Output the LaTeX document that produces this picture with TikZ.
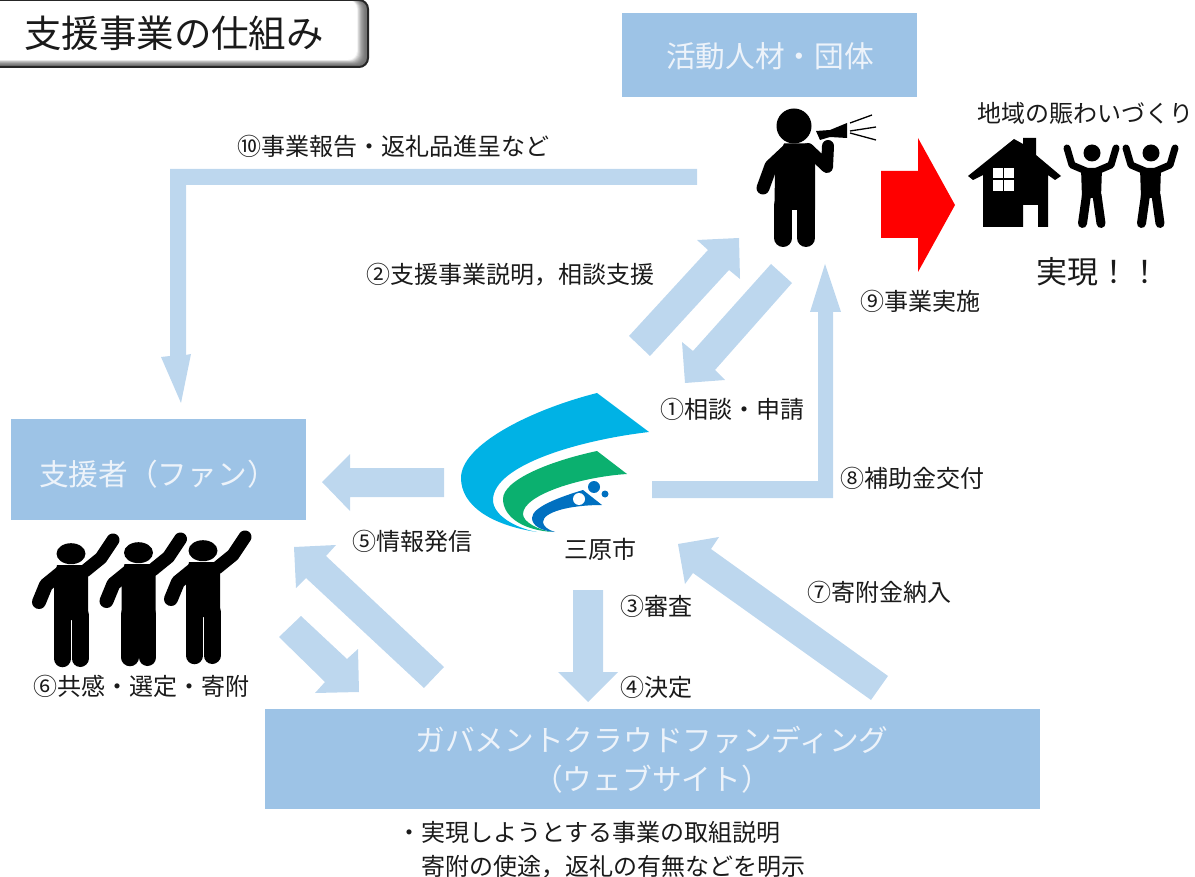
\documentclass[tikz,border=0pt]{standalone}
\usepackage{fontspec}
\setmainfont{Noto Sans CJK JP}
\definecolor{boxblue}{HTML}{9DC3E6}
\definecolor{arrowblue}{HTML}{BDD7EE}
\definecolor{logocyan}{HTML}{00B2E5}
\definecolor{logogreen}{HTML}{0BB06F}
\definecolor{logoblue}{HTML}{0070C0}
\definecolor{boxtext}{HTML}{EDF3FA}
\definecolor{inktext}{HTML}{1A1A1A}
\tikzset{
  bluebox/.style={fill=boxblue,draw=none},
  blockarrow/.style={fill=arrowblue,draw=none},
  boxlabel/.style={font=\fontsize{29.7}{38.5}\selectfont,text=boxtext,inner sep=0pt,align=center},
  lab/.style={font=\fontsize{24}{30}\selectfont,text=inktext,inner sep=0pt,text height=21pt,text depth=2pt},
  limb/.style={draw=black,line cap=round,line join=round},
}
\newcommand{\wavefigure}{%
  \fill[black] (71,553.7) ellipse [x radius=14.5,y radius=10.5];
  \fill[black] (57,565) -- (86,565) -- (88,572) -- (88,620) -- (54,620) -- (54,580) -- cycle;
  \draw[limb,line width=17.5] (62.5,615) -- (62.5,658.5);
  \draw[limb,line width=17] (80,615) -- (80,658.5);
  \draw[limb,line width=14] (62,572) -- (46,585) -- (39,602);
  \draw[limb,line width=13] (85,571) -- (101,558) -- (113,540);
}
\newcommand{\cheerfigure}{%
  \fill[black] (1092,153) circle [radius=8.5];
  \fill[black] (1081,168) -- (1102,168) -- (1101,198) -- (1082,198) -- cycle;
  \draw[limb,line width=7] (1086,171) -- (1072,165) -- (1067,148);
  \draw[limb,line width=7] (1097,171) -- (1111,165) -- (1116,148);
  \draw[limb,line width=9] (1086.5,195) -- (1082.5,223.5);
  \draw[limb,line width=9] (1097,195) -- (1101,223.5);
}
\begin{document}
\begin{tikzpicture}[x=1pt,y=-1pt]
\useasboundingbox (0,0) rectangle (1195,877);
% title
\foreach \i in {0,...,16}{
  \pgfmathsetmacro{\shadepct}{min(100,45+\i*\i*0.35)}
  \fill[white!\shadepct!black,rounded corners=9] (-10,0) rectangle ({368-\i*0.85},{67-\i*0.55});
}
\draw[draw=black!85,line width=2,rounded corners=9] (-10,0) rectangle (368,67);
\node[inner sep=0pt,text=inktext,font=\fontsize{37.5}{42}\selectfont] (title) at (174,33) {支援事業の仕組み};
% boxes
\fill[bluebox] (622,13) rectangle (917,97);
\node[boxlabel] (actor) at (770,56) {活動人材・団体};
\fill[bluebox] (11,419) rectangle (306,520);
\node[boxlabel] (supporter) at (158,474) {支援者（ファン）};
\fill[bluebox] (265,709) rectangle (1040,809);
\node[boxlabel] (gcf) at (652,760) {ガバメントクラウドファンディング\\（ウェブサイト）};
% block arrows
\fill[blockarrow] (697,169) -- (170,169) -- (170,356) -- (161,357) -- (181,403) -- (191,354) -- (186,355) -- (186,185) -- (697,185) -- cycle;
\fill[blockarrow] (629,336) -- (650,356) -- (729,270) -- (740,279) -- (739,238) -- (697,240) -- (708,250) -- cycle;
\fill[blockarrow] (771,264) -- (792,283) -- (715,370) -- (725,380) -- (685,383) -- (682,342) -- (693,351) -- cycle;
\fill[blockarrow] (652,481) -- (818,481) -- (818,312) -- (810,312) -- (825,264) -- (841,312) -- (833,312) -- (833,498) -- (652,498) -- cycle;
\fill[blockarrow] (444,468) -- (350,468) -- (350,454) -- (322,482) -- (350,511) -- (350,497) -- (444,497) -- cycle;
\fill[blockarrow] (573,590) -- (603,590) -- (603,672) -- (618,672) -- (588,702) -- (558,672) -- (573,672) -- cycle;
\fill[blockarrow] (888,676) -- (871,700) -- (693,573) -- (685,584) -- (678,544) -- (719,537) -- (711,549) -- cycle;
\fill[blockarrow] (444,667) -- (424,688) -- (306,578) -- (296,588) -- (294,547) -- (336,545) -- (326,556) -- cycle;
\fill[blockarrow] (279,637) -- (301,616) -- (347,659) -- (358,649) -- (359,692) -- (315,693) -- (325,682) -- cycle;
% red arrow
\fill[red] (881,171) -- (918,171) -- (918,138) -- (955,205) -- (918,272) -- (918,238) -- (881,238) -- cycle;
% megaphone person
\fill[black] (794,126) circle [radius=17.5];
\fill[black] (784,143.5) -- (806,143.5) -- (815,155) -- (815,210) -- (774.5,210) -- (775,165) -- cycle;
\draw[limb,line width=18] (783.3,205) -- (783.3,238);
\draw[limb,line width=18] (806,205) -- (806,238);
\draw[limb,line width=13] (787,151) -- (771,166) -- (763,188);
\draw[limb,line width=12] (808,149) -- (827,167) -- (828,146);
\fill[black] (816,131) -- (820,140) -- (830,137) -- (847,138) -- (847,123) -- (830,130) -- cycle;
\draw[black,line width=1.3] (850,123) -- (872,115) (850,131) -- (876,127) (850,133) -- (876,140);
% house
\fill[black] (968,176) -- (1014,139) -- (1023,144) -- (1023,138) -- (1036,138) -- (1036,155) -- (1061,176) -- (1055,180) -- (1048,175) -- (1048,227) -- (1038,227) -- (1038,205) -- (1023,205) -- (1023,227) -- (983,227) -- (983,175) -- (973,180) -- cycle;
\fill[white] (993,168) rectangle (1014,191);
\draw[black,line width=1.2] (1003.5,168) -- (1003.5,191) (993,179) -- (1014,179);
% cheering figures
\cheerfigure
\begin{scope}[shift={(59,0)}]\cheerfigure\end{scope}
% waving figures
\wavefigure
\begin{scope}[shift={(67.5,-1)}]\wavefigure\end{scope}
\begin{scope}[shift={(132,-3)}]\wavefigure\end{scope}
% logo
\fill[logocyan] (597,393) -- (649,432) .. controls (580,440) and (493,465) .. (493,500) .. controls (493,515) and (515,528) .. (537,532) .. controls (490,525) and (461,505) .. (461,478) .. controls (461,445) and (530,410) .. (597,393) -- cycle;
\fill[logogreen] (597,451) -- (627,474) .. controls (580,477) and (523,495) .. (523,514) .. controls (523,522) and (538,530) .. (553,532) .. controls (520,530) and (503,515) .. (503,499) .. controls (503,480) and (550,461) .. (597,451) -- cycle;
\fill[logoblue] (583,490) -- (602,505) .. controls (570,505) and (543,512) .. (543,522) .. controls (543,526) and (548,530) .. (555,532) .. controls (542,531) and (532,526) .. (532,518) .. controls (532,507) and (560,497) .. (583,490) -- cycle;
\fill[white] (579,499) circle [radius=6];
\fill[logoblue] (594,487) circle [radius=6];
\fill[logoblue] (605,494) circle [radius=3.5];
% labels
\node[lab] (l10) at (393,146) {⑩事業報告・返礼品進呈など};
\node[lab] (l2) at (510,274) {②支援事業説明，相談支援};
\node[lab] (l9) at (920,301) {⑨事業実施};
\node[lab] (l1) at (732,409) {①相談・申請};
\node[lab] (l8) at (912,478) {⑧補助金交付};
\node[lab] (l5) at (412,541) {⑤情報発信};
\node[lab] (city) at (600,549) {三原市};
\node[lab] (l3) at (656,606) {③審査};
\node[lab] (l4) at (656,687) {④決定};
\node[lab] (l7) at (879,592) {⑦寄附金納入};
\node[lab] (l6) at (142,686) {⑥共感・選定・寄附};
\node[lab] (region) at (1085,113) {地域の賑わいづくり};
\node[lab,font=\fontsize{31}{36}\selectfont,text height=27pt,text depth=4pt] (real) at (1098,272) {実現！！};
\node[lab] (note1) at (589,832) {・実現しようとする事業の取組説明};
\node[lab] (note2) at (613,866) {寄附の使途，返礼の有無などを明示};
\end{tikzpicture}
\end{document}
